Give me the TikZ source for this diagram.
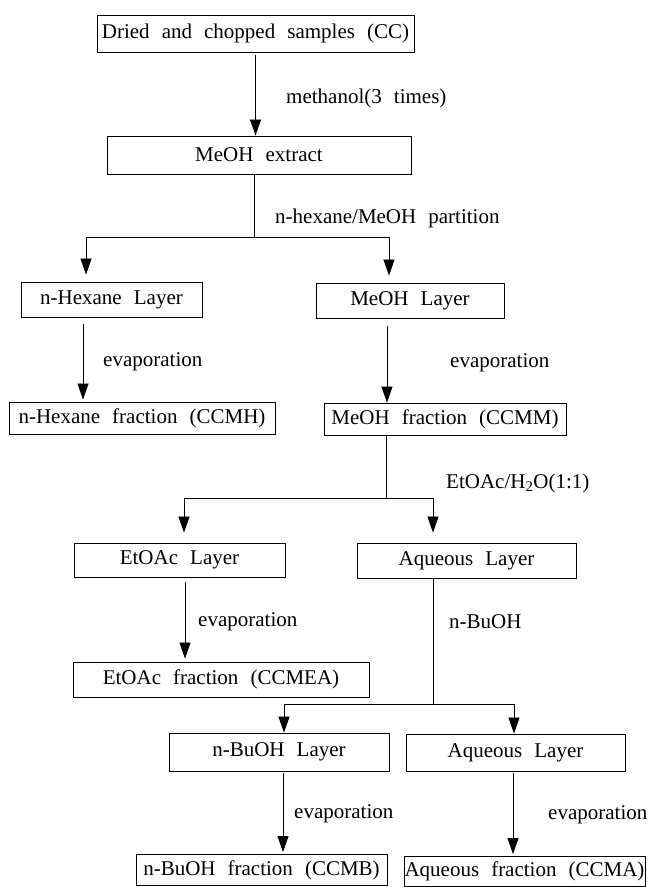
\documentclass[tikz,border=0pt]{standalone}
\usepackage{fontspec}
\setmainfont[WordSpace=2.3]{Liberation Serif}
\usetikzlibrary{positioning,arrows.meta}

\begin{document}
\begin{tikzpicture}[
    x=1pt, y=-1pt,
    every node/.style={font=\fontsize{21}{25}\selectfont},
    box/.style={draw, line width=0.9pt, inner sep=0pt, minimum height=35pt, align=center},
    lbl/.style={anchor=west, inner sep=0pt},
    lin/.style={line width=0.8pt},
    arr/.style={-{Triangle[length=16pt,width=11pt]}, line width=0.8pt}
]
\useasboundingbox (0,0) rectangle (649,887);

% extraction
\node[box, minimum width=317pt, minimum height=37pt] (src) at (255.5,33.5) {Dried and chopped samples (CC)};
\node[box, minimum width=304pt, minimum height=38pt] (ext) at (259,155) {MeOH extract};

% first partition
\node[box, minimum width=181pt] (hexL) at (111.5,299.5) {n-Hexane Layer};
\node[box, minimum width=188pt] (meL) at (410,300.5) {MeOH Layer};
\node[box, minimum width=266pt, minimum height=32pt] (hexF) at (142,418) {n-Hexane fraction (CCMH)};
\node[box, minimum width=242pt, minimum height=32pt] (meF) at (445,419) {MeOH fraction (CCMM)};

% second partition
\node[box, minimum width=211pt, minimum height=34pt] (etL) at (179.5,560) {EtOAc Layer};
\node[box, minimum width=219pt] (aqL) at (466.5,560.5) {Aqueous Layer};
\node[box, minimum width=296pt] (etF) at (221,679.5) {EtOAc fraction (CCMEA)};

% third partition
\node[box, minimum width=220pt, minimum height=38pt] (buL) at (279,752) {n-BuOH Layer};
\node[box, minimum width=219pt, minimum height=37pt] (aqLb) at (515.5,752.5) {Aqueous Layer};
\node[box, minimum width=251pt, minimum height=31pt] (buF) at (261.5,870) {n-BuOH fraction (CCMB)};
\node[box, minimum width=241pt, minimum height=30pt] (aqF) at (524.5,871.5) {Aqueous fraction (CCMA)};

% labels
\node[lbl] (lMeth) at (286,98) {methanol(3 times)};
\node[lbl] (lPart) at (275,218) {n-hexane/MeOH partition};
\node[lbl] (lEvA) at (103,362) {evaporation};
\node[lbl] (lEvB) at (450,363) {evaporation};
\node[lbl] (lEtAq) at (446,483) {EtOAc/H\textsubscript{2}O(1:1)};
\node[lbl] (lEvC) at (198,622) {evaporation};
\node[lbl] (lBu) at (449,622) {n-BuOH};
\node[lbl] (lEvD) at (294,814) {evaporation};
\node[lbl] (lEvE) at (548,815) {evaporation};

% connectors
\coordinate (s1) at (254,237);
\coordinate (s2) at (386,498);
\coordinate (s3) at (433,704);

\draw[arr, shorten <=3pt] (src.south) -- (src.south |- ext.north);

\draw[lin] (ext.south -| s1) -- (s1);
\draw[arr, shorten >=7pt] (s1) -| ([xshift=-25.5pt]hexL.north);
\draw[arr, shorten >=7pt] (s1) -| ([xshift=-21pt]meL.north);

\draw[arr, shorten <=7pt, shorten >=2pt] ([xshift=-28.5pt]hexL.south) -- ([xshift=-28.5pt]hexL.south |- hexF.north);
\draw[arr, shorten <=8pt] ([xshift=-23pt]meL.south) -- ([xshift=-23pt]meL.south |- meF.north);

\draw[lin] (meF.south -| s2) -- (s2);
\draw[arr, shorten >=10pt] (s2) -| ([xshift=4.5pt]etL.north);
\draw[arr, shorten >=10pt] (s2) -| ([xshift=-33.5pt]aqL.north);

\draw[arr, shorten <=5pt, shorten >=3pt] ([xshift=5.5pt]etL.south) -- ([xshift=5.5pt]etL.south |- etF.north);

\draw[lin] (aqL.south -| s3) -- (s3);
\draw[arr] (s3) -| ([xshift=5pt]buL.north);
\draw[arr] (s3) -| ([xshift=-1.5pt]aqLb.north);

\draw[arr, shorten <=2pt, shorten >=2pt] ([xshift=4pt]buL.south) -- ([xshift=4pt]buL.south |- buF.north);
\draw[arr, shorten <=2pt, shorten >=2pt] ([xshift=-2.5pt]aqLb.south) -- ([xshift=-2.5pt]aqLb.south |- aqF.north);
\end{tikzpicture}
\end{document}
